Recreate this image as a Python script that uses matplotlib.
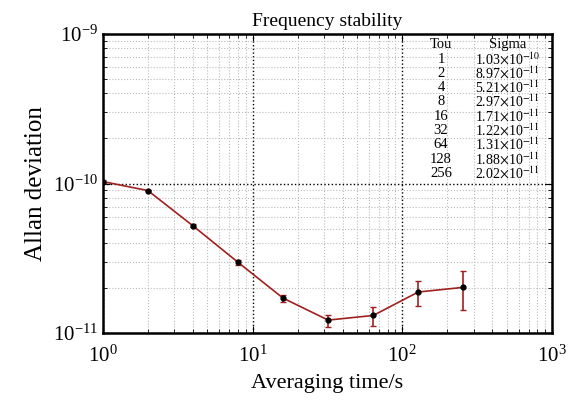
import matplotlib
matplotlib.use('Agg')
import matplotlib.pyplot as plt

plt.rcParams['font.family'] = ['Liberation Serif', 'DejaVu Serif']
plt.rcParams['mathtext.fontset'] = 'stix'

tau = [1, 2, 4, 8, 16, 32, 64, 128, 256]
sigma = [1.03e-10, 8.97e-11, 5.21e-11, 2.97e-11, 1.71e-11, 1.22e-11, 1.31e-11, 1.88e-11, 2.02e-11]
err_lo = [0.02e-10, 0.02e-11, 0.13e-11, 0.10e-11, 0.09e-11, 0.13e-11, 0.19e-11, 0.37e-11, 0.59e-11]
err_hi = [0.02e-10, 0.02e-11, 0.14e-11, 0.10e-11, 0.09e-11, 0.10e-11, 0.18e-11, 0.36e-11, 0.58e-11]
sigma_labels = ['1.03', '8.97', '5.21', '2.97', '1.71', '1.22', '1.31', '1.88', '2.02']
sigma_exps = [-10, -11, -11, -11, -11, -11, -11, -11, -11]

fig = plt.figure(figsize=(5.81, 4.0), dpi=100)
ax = fig.add_axes([0.177, 0.1675, 0.773, 0.7475])

ax.errorbar(tau, sigma, yerr=[err_lo, err_hi], color='#a02020', lw=1.2,
            marker='o', ms=3.5, mfc='black', mec='black',
            ecolor='#a02020', elinewidth=1.2, capsize=2)

ax.set_xscale('log')
ax.set_yscale('log')
ax.set_xlim(1, 1000)
ax.set_ylim(1e-11, 1e-9)

ax.grid(which='major', color='black', linestyle=':', lw=1.0)
ax.grid(which='minor', color='#bbbbbb', linestyle=':', lw=0.8)
ax.tick_params(which='both', direction='in', top=True, right=True, labelsize=15)
ax.tick_params(axis='x', which='major', pad=9)
ax.tick_params(which='major', length=5)
ax.tick_params(which='minor', length=3)
for s in ax.spines.values():
    s.set_linewidth(1.8)

ax.set_xlabel('Averaging time/s', fontsize=16, labelpad=5)
ax.set_ylabel('Allan deviation', fontsize=18, labelpad=4)
ax.set_title('Frequency stability', fontsize=14, pad=6)

# table of values
y0 = 0.888
dy = 0.0357
fig.text(0.759, y0, 'Tou', ha='center', va='center', fontsize=10.5)
fig.text(0.874, y0, 'Sigma', ha='center', va='center', fontsize=10.5)
for i, (t, m, e) in enumerate(zip(tau, sigma_labels, sigma_exps)):
    yy = y0 - (i + 1) * dy
    fig.text(0.759, yy, str(t), ha='center', va='center', fontsize=10.5)
    fig.text(0.818, yy, r'%s$\times$10$^{%d}$' % (m, e), ha='left', va='center', fontsize=10)

fig.savefig('out.png', dpi=100)
